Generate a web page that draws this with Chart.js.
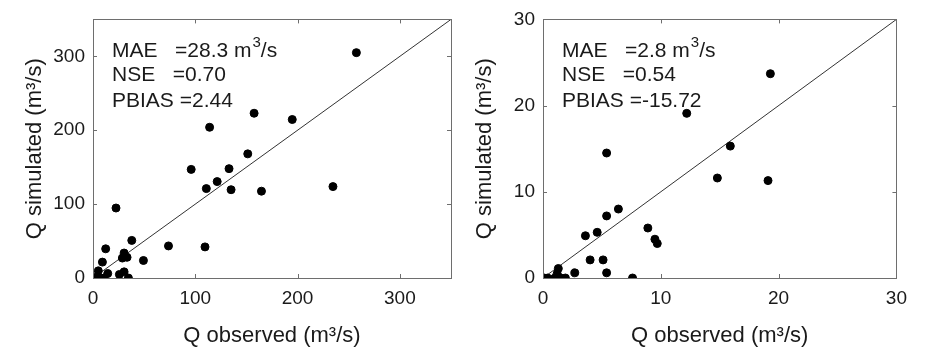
<!DOCTYPE html>
<html>
<head>
<meta charset="utf-8">
<script src="https://cdn.jsdelivr.net/npm/chart.js@4"></script>
<style>
    body { margin: 0; background: #fff; }
    .wrap { position: relative; width: 932px; height: 349px; overflow: hidden; }
    canvas { position: absolute; top: 0; }
    #leftChart { left: 0; }
    #rightChart { left: 450px; }
</style>
</head>
<body>
<div class="wrap">
    <canvas id="leftChart" width="466" height="349"></canvas>
    <canvas id="rightChart" width="466" height="349"></canvas>
</div>
<script>
const leftObserved = [257.5, 157.5, 194.8, 114, 151.3, 96, 133, 121.4, 110.8, 135, 164.7, 234.6, 22.5, 37.9, 73.8, 109.5, 12.4, 30.4, 28.7, 33.3, 49.3, 9.2, 5.2, 30.4, 25.8, 14.4, 7.5, 10.8, 34.6, 3];
const leftSimulated = [305, 223, 214.5, 204, 168, 147, 148, 130.5, 121, 119.5, 117.5, 123.7, 94.7, 50.9, 43.4, 42.1, 39.5, 33.8, 27, 28, 23.7, 21.5, 9.7, 8.3, 4.8, 6.1, 0, 0, 0, 1];
const leftTicks = [0, 100, 200, 300];
const leftStats = ['MAE   =28.3 m', 'NSE   =0.70', 'PBIAS =2.44'];

const rightObserved = [19.3, 12.2, 15.9, 5.4, 14.8, 19.1, 6.4, 5.4, 8.9, 4.6, 3.6, 9.5, 9.7, 4.0, 5.1, 2.7, 5.4, 7.6, 1.3, 1.2, 0.1, 0.4, 1.0, 1.5, 1.9, 1.25];
const rightSimulated = [23.7, 19.1, 15.3, 14.5, 11.6, 11.3, 8.0, 7.2, 5.8, 5.3, 4.9, 4.5, 4.0, 2.1, 2.1, 0.6, 0.6, 0, 1.1, 0.5, 0, 0, 0, 0, 0, 0.2];
const rightTicks = [0, 10, 20, 30];
const rightStats = ['MAE   =2.8 m', 'NSE   =0.54', 'PBIAS =-15.72'];

const fontFamily = '"Liberation Sans", Arial, sans-serif';
const textColor = '#1a1a1a';

// box round the plot area, inward ticks, stats text
const boxPlugin = {
    id: 'box',
    afterDatasetsDraw(chart) {
        const ctx = chart.ctx;
        const a = chart.chartArea;
        const xs = chart.scales.x;
        const ys = chart.scales.y;
        const tickLen = 4;
        ctx.save();
        ctx.strokeStyle = '#6e6e6e';
        ctx.lineWidth = 1;
        ctx.strokeRect(Math.round(a.left) + 0.5, Math.round(a.top) + 0.5, Math.round(a.right - a.left), Math.round(a.bottom - a.top));
        ctx.beginPath();
        xs.ticks.forEach(t => {
            const px = Math.round(xs.getPixelForValue(t.value)) + 0.5;
            ctx.moveTo(px, a.bottom); ctx.lineTo(px, a.bottom - tickLen);
            ctx.moveTo(px, a.top); ctx.lineTo(px, a.top + tickLen);
        });
        ys.ticks.forEach(t => {
            const py = Math.round(ys.getPixelForValue(t.value)) + 0.5;
            ctx.moveTo(a.left, py); ctx.lineTo(a.left + tickLen, py);
            ctx.moveTo(a.right, py); ctx.lineTo(a.right - tickLen, py);
        });
        ctx.stroke();

        const stats = chart.options.plugins.box.lines;
        const x0 = a.left + 19;
        const baselines = [38, 62, 88];
        ctx.fillStyle = textColor;
        ctx.textBaseline = 'alphabetic';
        ctx.textAlign = 'left';
        stats.forEach((line, k) => {
            const y = a.top + baselines[k];
            ctx.font = '21px ' + fontFamily;
            ctx.fillText(line, x0, y);
            if (k === 0) {
                let w = ctx.measureText(line).width;
                ctx.font = '15px ' + fontFamily;
                ctx.fillText('3', x0 + w + 1, y - 10);
                w += ctx.measureText('3').width + 1;
                ctx.font = '21px ' + fontFamily;
                ctx.fillText('/s', x0 + w, y);
            }
        });
        ctx.restore();
    }
};

function makeChart(id, observed, simulated, ticks, max, stats, padRight) {
    const points = observed.map((v, k) => ({x: v, y: simulated[k]}));
    const tickFont = {family: fontFamily, size: 19};
    const titleFont = {family: fontFamily, size: 22};
    return new Chart(document.getElementById(id), {
        type: 'scatter',
        data: {
            datasets: [{
                data: points,
                backgroundColor: '#000',
                borderColor: '#000',
                pointRadius: 4,
                order: 1
            }, {
                data: [{x: 0, y: 0}, {x: max, y: max}],
                showLine: true,
                borderColor: '#333',
                borderWidth: 1,
                pointRadius: 0,
                order: 2
            }]
        },
        options: {
            responsive: false,
            animation: false,
            devicePixelRatio: 1,
            layout: {padding: {top: 12, right: padRight, left: 0, bottom: 0}},
            plugins: {
                legend: {display: false},
                tooltip: {enabled: false},
                box: {lines: stats}
            },
            scales: {
                x: {
                    min: 0, max: max,
                    grid: {display: false, drawTicks: false},
                    border: {display: false},
                    afterBuildTicks: s => { s.ticks = ticks.map(v => ({value: v})); },
                    afterFit: s => { s.height = 71; },
                    ticks: {font: tickFont, color: textColor, padding: 9, maxRotation: 0},
                    title: {display: true, text: 'Q observed (m³/s)', font: titleFont, color: textColor, padding: {top: 0, bottom: 0}}
                },
                y: {
                    min: 0, max: max,
                    grid: {display: false, drawTicks: false},
                    border: {display: false},
                    afterBuildTicks: s => { s.ticks = ticks.map(v => ({value: v})); },
                    afterFit: s => { s.width = 93; },
                    ticks: {font: tickFont, color: textColor, padding: 8},
                    title: {display: true, text: 'Q simulated (m³/s)', font: titleFont, color: textColor, padding: {top: 22, bottom: 0}}
                }
            }
        },
        plugins: [boxPlugin]
    });
}

makeChart('leftChart', leftObserved, leftSimulated, leftTicks, 350, leftStats, 15);
makeChart('rightChart', rightObserved, rightSimulated, rightTicks, 30, rightStats, 4);
</script>
</body>
</html>
